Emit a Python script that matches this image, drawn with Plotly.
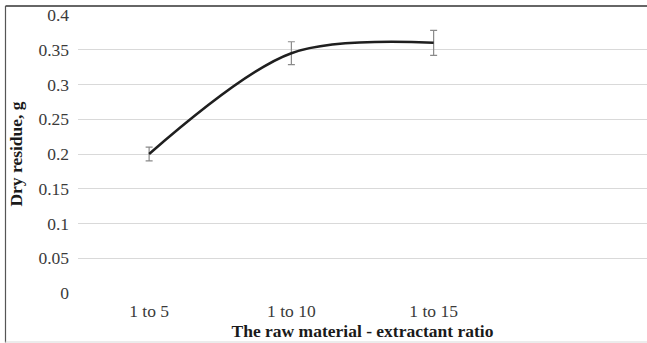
import plotly.graph_objects as go

categories = ["1 to 5", "1 to 10", "1 to 15"]
dry_residue = [0.2, 0.345, 0.36]
errors = [0.01, 0.0165, 0.018]
y_ticks = [0, 0.05, 0.1, 0.15, 0.2, 0.25, 0.3, 0.35, 0.4]
y_tick_labels = ["0", "0.05", "0.1", "0.15", "0.2", "0.25", "0.3", "0.35", "0.4"]

W, H = 647, 343
L, R, T, B = 78, 0, 15, 50
pw = W - L - R
ph = H - T - B

fig = go.Figure()
fig.add_trace(go.Scatter(
    x=categories, y=dry_residue,
    mode="lines",
    line=dict(color="#1f1f1f", width=2.5, shape="spline", smoothing=0.9),
    error_y=dict(type="data", array=errors, visible=True, color="#8a8a8a", thickness=1.2, width=3.5),
    showlegend=False,
))

font = "Liberation Serif, Times New Roman, serif"
fig.update_layout(
    width=W, height=H,
    margin=dict(l=L, r=R, t=T, b=B),
    paper_bgcolor="white", plot_bgcolor="white",
    font=dict(family=font, size=18, color="#3a3a3a"),
    xaxis=dict(
        type="category", categoryorder="array", categoryarray=categories,
        range=[-0.5, 3.5], showgrid=False, zeroline=False, showline=False,
        ticks="", ticklabelstandoff=5,
        tickfont=dict(family=font, size=17.5, color="#3a3a3a"),
        title=dict(text="<b>The raw material - extractant ratio</b>", standoff=5,
                   font=dict(family=font, size=17.5, color="#1a1a1a")),
    ),
    yaxis=dict(
        range=[0, 0.4], tickvals=y_ticks, ticktext=y_tick_labels,
        showgrid=True, gridcolor="#d9d9d9", gridwidth=1, zeroline=False, showline=False,
        ticks="", ticklabelstandoff=8,
        tickfont=dict(family=font, size=17.5, color="#3a3a3a"),
        title=dict(text="<b>Dry residue, g</b>", standoff=11,
                   font=dict(family=font, size=17.5, color="#1a1a1a")),
    ),
)

# chart frame (outer border)
fig.add_shape(type="line", xref="paper", yref="paper",
              x0=(5.5 - L) / pw, x1=1, y0=1 + (T - 6) / ph, y1=1 + (T - 6) / ph,
              line=dict(color="#333333", width=1.5))
fig.add_shape(type="line", xref="paper", yref="paper",
              x0=(5.5 - L) / pw, x1=(5.5 - L) / pw, y0=-(B - 0.5) / ph, y1=1 + (T - 6) / ph,
              line=dict(color="#555555", width=1.2))
fig.add_shape(type="line", xref="paper", yref="paper",
              x0=(5.5 - L) / pw, x1=1, y0=-(B - 1) / ph, y1=-(B - 1) / ph,
              line=dict(color="#d9d9d9", width=1))

fig.write_html("out.html")
